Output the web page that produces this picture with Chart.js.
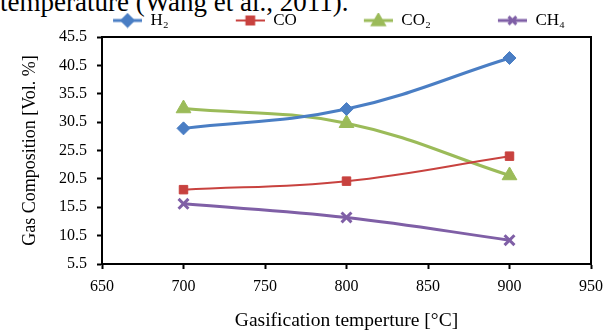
<!DOCTYPE html>
<html>
<head>
<meta charset="utf-8">
<script src="https://cdn.jsdelivr.net/npm/chart.js@4.4.0/dist/chart.umd.min.js"></script>
<style>
  body { margin: 0; background: #fff; }
  #wrap { position: relative; width: 611px; height: 334px; overflow: hidden; }
  #caption {
    position: absolute; left: 0; top: -11px; white-space: nowrap;
    font: 27px 'Liberation Serif', serif; line-height: 27px; color: #000;
  }
  #chart { position: absolute; left: 0; top: 0; }
</style>
</head>
<body>
<div id="wrap">
  <div id="caption">temperature (Wang et al., 2011).</div>
  <canvas id="chart" width="611" height="334"></canvas>
</div>
<script>
// values
const temps = [700, 800, 900];
const h2 = [29.4, 32.8, 41.8];
const co = [18.6, 20.1, 24.5];
const co2 = [32.9, 30.3, 21.1];
const ch4 = [16.1, 13.7, 9.7];

const seriesNames = ['H\u2082', 'CO', 'CO\u2082', 'CH\u2084'];
const seriesColors = ['#4a7ec4', '#c8423f', '#9bbb59', '#7f5fa6'];
const seriesMarkers = ['rectRot', 'rect', 'triangle', 'crossRot'];

const xTicks = { min: 650, max: 950, step: 50 };
const yTicks = { min: 5.5, max: 45.5, step: 5 };

const FONT = "'Liberation Serif', 'Times New Roman', serif";
Chart.defaults.color = '#000';
Chart.defaults.font.family = FONT;

const values = [h2, co, co2, ch4];
const lineWidths = [3, 2, 3, 3];
const radii = [6.5, 6, 8.5, 7];

// little line + marker swatch for the legend (Excel style)
function legendSwatch(i) {
  const c = document.createElement('canvas');
  c.width = 90; c.height = 16;
  const g = c.getContext('2d');
  g.strokeStyle = seriesColors[i];
  g.fillStyle = seriesColors[i];
  g.lineWidth = lineWidths[i];
  g.beginPath();
  g.moveTo(61, 8);
  g.lineTo(90, 8);
  g.stroke();
  Chart.helpers.drawPoint(g, {
    pointStyle: seriesMarkers[i],
    radius: seriesMarkers[i] === 'triangle' ? 6.5 : 5.5,
    rotation: 0,
    borderWidth: seriesMarkers[i] === 'crossRot' ? 2.5 : 1
  }, 75.5, seriesMarkers[i] === 'triangle' ? 9 : 8);
  return c;
}

const datasets = values.map((arr, i) => ({
  label: seriesNames[i],
  data: arr.map((v, k) => ({ x: temps[k], y: v })),
  borderColor: seriesColors[i],
  backgroundColor: seriesColors[i],
  borderWidth: lineWidths[i],
  pointStyle: seriesMarkers[i],
  pointRadius: radii[i],
  pointBorderWidth: seriesMarkers[i] === 'crossRot' ? 3 : 1,
  tension: 0.4,
  fill: false
}));

const frameBox = {
  id: 'frameBox',
  afterDraw(chart) {
    const a = chart.chartArea;
    const ctx = chart.ctx;
    ctx.save();
    ctx.strokeStyle = '#000';
    ctx.lineWidth = 2;
    ctx.strokeRect(a.left, a.top, a.right - a.left, a.bottom - a.top);
    ctx.restore();
  }
};

new Chart(document.getElementById('chart'), {
  type: 'line',
  data: { datasets: datasets },
  plugins: [frameBox],
  options: {
    responsive: false,
    animation: false,
    layout: { padding: { top: 6, right: 18, bottom: 0, left: 24 } },
    plugins: {
      tooltip: { enabled: false },
      legend: {
        position: 'top',
        maxHeight: 31,
        labels: {
          usePointStyle: true,
          pointStyleWidth: 90,
          padding: 6,
          font: { size: 17, family: FONT },
          generateLabels(chart) {
            return Chart.defaults.plugins.legend.labels.generateLabels(chart).map((item, i) => {
              item.pointStyle = legendSwatch(i);
              return item;
            });
          }
        }
      }
    },
    scales: {
      x: {
        type: 'linear',
        min: xTicks.min,
        max: xTicks.max,
        afterFit(scale) { scale.height = 70; },
        ticks: { stepSize: xTicks.step, padding: 8, font: { size: 16 } },
        grid: { drawOnChartArea: false, tickLength: 5, tickColor: '#000', tickWidth: 2 },
        border: { color: '#000', width: 2 },
        title: {
          display: true,
          text: 'Gasification temperture [\u00B0C]',
          font: { size: 19.5 },
          padding: { top: 0, bottom: 1 }
        }
      },
      y: {
        min: yTicks.min,
        max: yTicks.max,
        afterFit(scale) { scale.width = 78; },
        ticks: {
          stepSize: yTicks.step,
          padding: 10,
          font: { size: 16 },
          callback: v => v.toFixed(1)
        },
        grid: { drawOnChartArea: false, tickLength: 5, tickColor: '#000', tickWidth: 2 },
        border: { color: '#000', width: 2 },
        title: {
          display: true,
          text: 'Gas Composition [Vol. %]',
          font: { size: 18 },
          padding: { top: -5, bottom: 0 }
        }
      }
    }
  }
});
</script>
</body>
</html>
